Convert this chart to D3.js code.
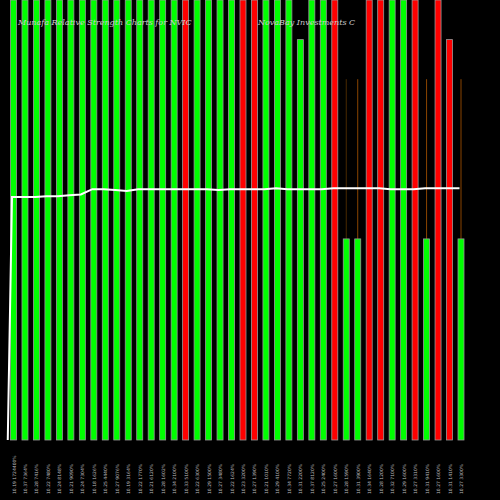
<!DOCTYPE html>
<html><head><meta charset="utf-8">
<script src="https://cdn.jsdelivr.net/npm/d3@7"></script>
<style>body{margin:0;background:#000}</style></head>
<body><svg id="c" width="500" height="500"></svg>
<script>
const labels = ["10.19 1724400%","10.37 7364%","10.28 7416%","10.22 7480%","10.24 8148%","10.21 9090%","10.24 7304%","10.18 1626%","10.25 4440%","10.27 9076%","10.19 3164%","10.22 1770%","10.21 6120%","10.28 1602%","10.34 2100%","10.33 5100%","10.22 6300%","10.29 1500%","10.27 3480%","10.22 1624%","10.23 3200%","10.27 1390%","10.21 1010%","10.29 4100%","10.34 7720%","10.31 2200%","10.37 8120%","10.25 2400%","10.27 1600%","10.28 1590%","10.31 3900%","10.34 1640%","10.28 1200%","10.32 7100%","10.29 1600%","10.27 3310%","10.31 9410%","10.27 1600%","10.31 1410%","10.27 3300%"];
const colors = ["g","g","g","g","g","g","g","g","g","g","g","g","g","g","g","r","g","g","g","g","r","r","g","g","g","g","g","g","r","g","g","r","r","g","g","r","g","r","r","g"];
const barVals = [100,100,100,100,100,100,100,100,100,100,100,100,100,100,100,100,100,100,100,100,100,100,100,100,100,91,100,100,100,45.7,45.7,100,100,100,100,100,45.7,100,91,45.7];
const wickVals = [null,null,null,null,null,null,null,null,null,null,null,null,null,null,null,null,null,null,null,null,null,null,null,null,null,null,null,null,null,82,82,null,null,null,null,null,82,null,null,82];
const lineVals = [55.2,55.2,55.2,55.4,55.4,55.6,55.8,57,57,56.8,56.6,57,57,57,57,57,57,57,56.8,57,57,57,57,57.2,57,57,57,57,57.2,57.2,57.2,57.2,57.2,57,57,57,57.2,57.2,57.2,57.2];

const svg = d3.select("#c");
const x = d3.scaleLinear().domain([0,39]).range([13.5,461]);
const y = d3.scaleLinear().domain([0,100]).range([440,0]);
const col = {g:"#00ff00", r:"#ff0000"};

svg.append("rect").attr("width",500).attr("height",500).attr("fill","#000");

svg.selectAll(".wick").data(wickVals.map((v,i)=>({v,i})).filter(d=>d.v!==null)).enter()
  .append("line").attr("x1",d=>x(d.i)).attr("x2",d=>x(d.i))
  .attr("y1",d=>y(d.v)).attr("y2",d=>y(barVals[d.i]))
  .attr("stroke",(d,k)=>k===0?"#4a2a00":"#8a4500").attr("stroke-width",1);

svg.selectAll(".bar").data(barVals).enter().append("rect")
  .attr("x",(d,i)=>x(i)-3).attr("width",6)
  .attr("y",d=>y(d)).attr("height",d=>y(0)-y(d))
  .attr("fill",(d,i)=>col[colors[i]])
  .attr("stroke","#999").attr("stroke-width",0.8);

const pts = [[x(-0.5),y(0)]].concat(lineVals.map((v,i)=>[x(i)-1.5,y(v)]));
svg.append("path").attr("d",d3.line()(pts)).attr("fill","none")
  .attr("stroke","#fff").attr("stroke-width",2);

svg.append("text").attr("x",18).attr("y",25).text("Munafa Relative Strength Charts for NVIC")
  .attr("fill","#ccc").attr("font-family","DejaVu Serif").attr("font-style","italic").attr("font-size",8);
svg.append("text").attr("x",258).attr("y",25).text("NovaBay Investments C")
  .attr("fill","#ccc").attr("font-family","DejaVu Serif").attr("font-style","italic").attr("font-size",8);

svg.selectAll(".lab").data(labels).enter().append("text")
  .attr("transform",(d,i)=>`translate(${x(i)+2},494) rotate(-90)`)
  .text(d=>d).attr("fill","#bbb").attr("font-family","DejaVu Sans").attr("font-size",4.5);
</script></body></html>
